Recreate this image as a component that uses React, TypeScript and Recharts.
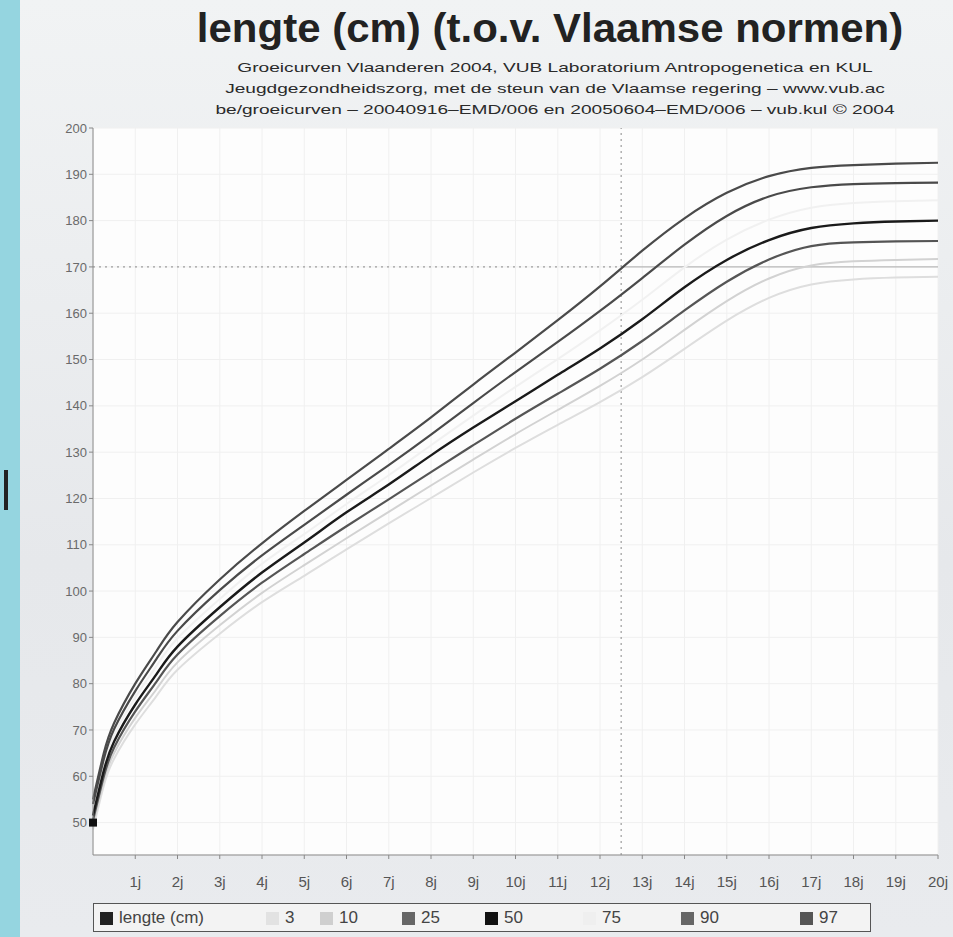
import { ComposedChart, Line, Scatter, XAxis, YAxis, CartesianGrid, ReferenceLine } from 'recharts';

// leeftijd in jaren
const AGES = [0, 0.25, 0.5, 1, 1.5, 2, 3, 4, 5, 6, 7, 8, 9, 10, 11, 12, 13, 14, 15, 16, 17, 18, 19, 20];

// percentielen lengte (cm)
const P3 = [48.5, 57.8, 63.8, 71.2, 77.3, 83, 90.8, 97.6, 103.3, 109, 114.6, 120.1, 125.6, 130.9, 135.9, 140.8, 146.2, 152.3, 158.4, 163.3, 166.2, 167.3, 167.7, 167.9];
const P10 = [49.5, 58.8, 65, 72.6, 78.8, 84.6, 92.6, 99.6, 105.6, 111.4, 117.1, 122.8, 128.4, 133.9, 139.1, 144.3, 150, 156.4, 162.6, 167.5, 170.3, 171.2, 171.5, 171.7];
const P25 = [50.5, 59.8, 66.2, 74, 80.4, 86.3, 94.6, 101.8, 108, 114, 119.8, 125.7, 131.5, 137.2, 142.6, 148, 154, 160.6, 166.8, 171.6, 174.5, 175.3, 175.5, 175.6];
const P50 = [51.5, 61, 67.5, 75.5, 82, 88, 96.5, 104, 110.5, 117, 123, 129.3, 135.3, 141, 146.7, 152.4, 158.7, 165.6, 171.5, 175.8, 178.4, 179.4, 179.8, 180];
const P75 = [52.8, 62.3, 68.9, 77, 83.8, 89.8, 98.3, 105.9, 112.3, 118.8, 125, 131.5, 137.9, 144.1, 150.1, 156.3, 162.9, 169.9, 175.9, 180.2, 182.8, 183.8, 184.2, 184.4];
const P90 = [54, 63.5, 70.2, 78.4, 85.3, 91.4, 100.2, 107.7, 114.3, 120.8, 127.2, 133.8, 140.6, 147.3, 153.8, 160.5, 167.6, 174.8, 181, 185.2, 187.2, 187.9, 188.1, 188.2];
const P97 = [55, 64.8, 71.5, 80, 87, 93.3, 102.5, 110.3, 117.3, 124, 130.7, 137.5, 144.6, 151.5, 158.5, 165.8, 173.5, 180.5, 186, 189.6, 191.4, 192, 192.3, 192.5];

// gemeten lengte
const MEASURED_AGES = [0];
const MEASURED = [50];

// hulplijnen
const MARK_AGE = 12.5;
const MARK_HEIGHT = 170;

const X_TICKS = [1, 2, 3, 4, 5, 6, 7, 8, 9, 10, 11, 12, 13, 14, 15, 16, 17, 18, 19, 20];
const Y_TICKS = [50, 60, 70, 80, 90, 100, 110, 120, 130, 140, 150, 160, 170, 180, 190, 200];

const data = AGES.map((age, i) => ({
  age,
  p3: P3[i],
  p10: P10[i],
  p25: P25[i],
  p50: P50[i],
  p75: P75[i],
  p90: P90[i],
  p97: P97[i],
}));
const measured = MEASURED_AGES.map((age, i) => ({ age, lengte: MEASURED[i] }));

const series = [
  { key: 'p3', color: '#dedede', width: 2 },
  { key: 'p10', color: '#d2d2d2', width: 2 },
  { key: 'p75', color: '#f1f1f1', width: 2 },
  { key: 'p25', color: '#555', width: 2.2 },
  { key: 'p90', color: '#4a4a4a', width: 2.2 },
  { key: 'p97', color: '#4a4a4a', width: 2.2 },
  { key: 'p50', color: '#1a1a1a', width: 2.4 },
];

const legendItems = [
  { label: 'lengte (cm)', color: '#222', left: 100 },
  { label: '3', color: '#e2e2e2', left: 266 },
  { label: '10', color: '#cfcfcf', left: 320 },
  { label: '25', color: '#666', left: 402 },
  { label: '50', color: '#111', left: 485 },
  { label: '75', color: '#efefef', left: 583 },
  { label: '90', color: '#666', left: 681 },
  { label: '97', color: '#555', left: 800 },
];

const font = '"Liberation Sans", Arial, sans-serif';

export default function App() {
  return (
    <div style={{ position: 'absolute', left: 0, top: 0, width: 953, height: 937, background: '#95d5e0', overflow: 'hidden', fontFamily: font }}>
      <div style={{ position: 'absolute', left: 4, top: 470, width: 4, height: 40, background: '#222' }} />
      <div style={{ position: 'absolute', left: 20, top: 0, width: 933, height: 937, background: 'linear-gradient(180deg, #f1f3f4 0%, #e6e8eb 60%, #e9ebee 100%)' }} />
      <div style={{ position: 'absolute', left: 0, top: 6, width: 1100, textAlign: 'center', fontSize: 40, fontWeight: 'bold', color: '#222', transform: 'scaleX(1.05)', transformOrigin: '550px 0' }}>
        lengte (cm) (t.o.v. Vlaamse normen)
      </div>
      <div style={{ position: 'absolute', left: 0, top: 57, width: 1110, textAlign: 'center', fontSize: 13, lineHeight: '21px', color: '#2a2a2a', transform: 'scaleX(1.47)', transformOrigin: '555px 0' }}>
        <div>Groeicurven Vlaanderen 2004, VUB Laboratorium Antropogenetica en KUL</div>
        <div>Jeugdgezondheidszorg, met de steun van de Vlaamse regering – www.vub.ac</div>
        <div>be/groeicurven – 20040916–EMD/006 en 20050604–EMD/006 – vub.kul © 2004</div>
      </div>

      <div style={{ position: 'absolute', left: 0, top: 0 }}>
        <ComposedChart width={953} height={937} data={data} margin={{ top: 128, right: 15, bottom: 52, left: 33 }}>
          <CartesianGrid stroke="#f0f0f0" fill="#fdfdfd" />
          <XAxis
            type="number"
            dataKey="age"
            domain={[0, 20]}
            ticks={X_TICKS}
            tickFormatter={(v: number) => `${v}j`}
            height={30}
            stroke="#888"
            tick={{ fill: '#555', fontSize: 15, fontFamily: font }}
            tickSize={4}
            tickMargin={17}
          />
          <YAxis
            type="number"
            domain={[43, 200]}
            ticks={Y_TICKS}
            width={60}
            stroke="#888"
            tick={{ fill: '#6a6a6a', fontSize: 13, fontFamily: font }}
            tickSize={4}
          />
          <ReferenceLine segment={[{ x: 0, y: MARK_HEIGHT }, { x: MARK_AGE, y: MARK_HEIGHT }]} stroke="#888" strokeDasharray="2 4" />
          <ReferenceLine segment={[{ x: MARK_AGE, y: MARK_HEIGHT }, { x: 20, y: MARK_HEIGHT }]} stroke="#aaa" />
          <ReferenceLine x={MARK_AGE} stroke="#888" strokeDasharray="2 4" />
          {series.map(s => (
            <Line
              key={s.key}
              type="natural"
              dataKey={s.key}
              stroke={s.color}
              strokeWidth={s.width}
              dot={false}
              isAnimationActive={false}
            />
          ))}
          <Scatter data={measured} dataKey="lengte" fill="#111" shape="square" isAnimationActive={false} />
        </ComposedChart>
      </div>

      <div style={{ position: 'absolute', left: 93, top: 903, width: 778, height: 29, border: '1px solid #555', background: '#f3f3f3', boxSizing: 'border-box' }} />
      {legendItems.map(item => (
        <div key={item.label} style={{ position: 'absolute', left: item.left, top: 907, height: 22, display: 'flex', alignItems: 'center', fontSize: 17, color: '#444' }}>
          <span style={{ display: 'inline-block', width: 13, height: 13, background: item.color, marginRight: 6 }} />
          {item.label}
        </div>
      ))}
    </div>
  );
}
